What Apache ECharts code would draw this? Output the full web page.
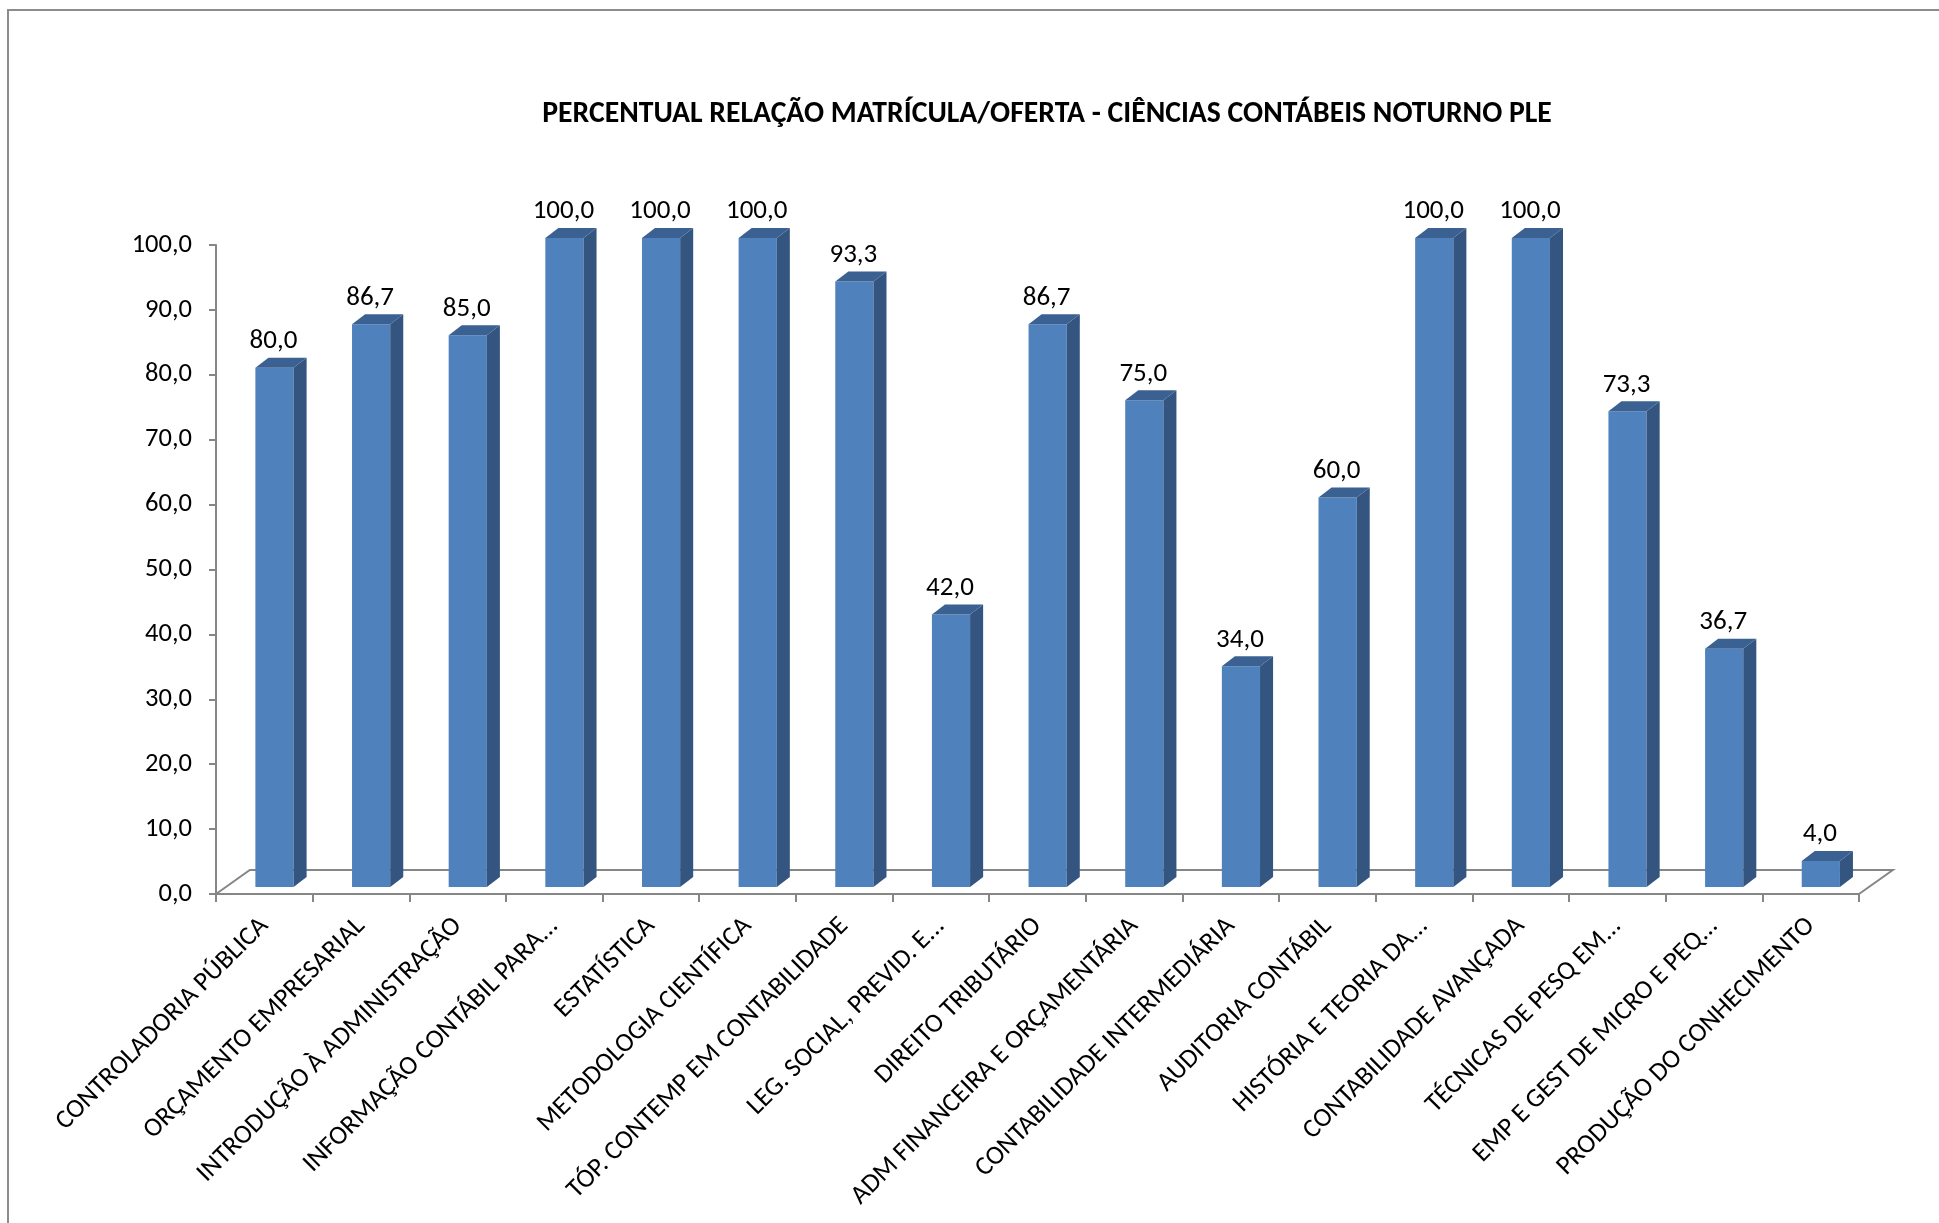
<!DOCTYPE html>
<html>
<head>
<meta charset="utf-8">
<script src="https://cdn.jsdelivr.net/npm/echarts@6/dist/echarts.min.js"></script>
<style>
html,body{margin:0;padding:0;background:#fff;}
#main{width:1939px;height:1223px;}
</style>
</head>
<body>
<div id="main"></div>
<script>
var titleText = 'PERCENTUAL RELAÇÃO MATRÍCULA/OFERTA - CIÊNCIAS CONTÁBEIS NOTURNO PLE';
var categories = [
  'CONTROLADORIA PÚBLICA',
  'ORÇAMENTO EMPRESARIAL',
  'INTRODUÇÃO À ADMINISTRAÇÃO',
  'INFORMAÇÃO CONTÁBIL PARA...',
  'ESTATÍSTICA',
  'METODOLOGIA CIENTÍFICA',
  'TÓP. CONTEMP EM CONTABILIDADE',
  'LEG. SOCIAL, PREVID. E...',
  'DIREITO TRIBUTÁRIO',
  'ADM FINANCEIRA E ORÇAMENTÁRIA',
  'CONTABILIDADE INTERMEDIÁRIA',
  'AUDITORIA CONTÁBIL',
  'HISTÓRIA E TEORIA DA...',
  'CONTABILIDADE AVANÇADA',
  'TÉCNICAS DE PESQ EM...',
  'EMP E GEST DE MICRO E PEQ...',
  'PRODUÇÃO DO CONHECIMENTO'
];
var values = [80.0, 86.7, 85.0, 100.0, 100.0, 100.0, 93.3, 42.0, 86.7, 75.0, 34.0, 60.0, 100.0, 100.0, 73.3, 36.7, 4.0];
var yMin = 0, yMax = 100, yInterval = 10;

var FONT = "Carlito, 'Liberation Sans', Arial, sans-serif";
var AXIS_COLOR = '#868686';

function fmt(v) { return v.toFixed(1).replace('.', ','); }

var chart = echarts.init(document.getElementById('main'), null, {renderer: 'canvas'});

var barData = values.map(function (v, i) { return [i, v]; });

function renderFloor(params, api) {
  var band = api.size([1, 0])[0];
  var first = api.coord([0, 0]);
  var last = api.coord([categories.length - 1, 0]);
  var x0 = first[0] - band / 2, x1 = last[0] + band / 2, y0 = first[1];
  var dx = band * 0.35, dy = 24;
  return {
    type: 'polyline',
    shape: {points: [[x0, y0], [x0 + dx, y0 - dy], [x1 + dx, y0 - dy], [x1, y0]]},
    style: {stroke: AXIS_COLOR, lineWidth: 2, fill: null}
  };
}

function renderBar(params, api) {
  var i = api.value(0), v = api.value(1);
  var band = api.size([1, 0])[0];
  var base = api.coord([i, 0]);
  var top = api.coord([i, v]);
  var shiftX = band * 0.105, shiftY = 7;
  var w = band * 0.395;
  var sx = band * 0.135, sy = 10;
  var xl = base[0] + shiftX - w / 2, xr = xl + w;
  var yb = base[1] - shiftY, yt = top[1] - shiftY;
  return {
    type: 'group',
    children: [
      {type: 'rect', shape: {x: xl, y: yt, width: w, height: yb - yt}, style: {fill: '#4F81BD'}},
      {type: 'polygon', shape: {points: [[xr, yt], [xr + sx, yt - sy], [xr + sx, yb - sy], [xr, yb]]}, style: {fill: '#34557F'}},
      {type: 'polygon', shape: {points: [[xl, yt], [xl + sx, yt - sy], [xr + sx, yt - sy], [xr, yt]]}, style: {fill: '#3B6193'}},
      {type: 'text', style: {text: fmt(v), x: xl + w / 2 - 1, y: yt - sy - 3, align: 'center', verticalAlign: 'bottom', font: '27px ' + FONT, fill: '#000'}}
    ]
  };
}

chart.setOption({
  backgroundColor: '#fff',
  animation: false,
  title: {
    text: titleText,
    left: 1042,
    top: 95,
    textAlign: 'center',
    textStyle: {fontFamily: FONT, fontSize: 29.7, fontWeight: 'bold', color: '#000'}
  },
  graphic: [{
    type: 'rect',
    shape: {x: 8, y: 10, width: 2000, height: 1400},
    style: {fill: null, stroke: '#8c8c8c', lineWidth: 2},
    silent: true
  }],
  grid: {left: 216, right: 80, top: 245, bottom: 329, containLabel: false},
  xAxis: {
    type: 'category',
    data: categories,
    axisLine: {show: true, lineStyle: {color: AXIS_COLOR, width: 2}},
    axisTick: {show: true, length: 8, lineStyle: {color: AXIS_COLOR, width: 2}},
    axisLabel: {interval: 0, rotate: 45, margin: 28, fontFamily: FONT, fontSize: 26.5, color: '#000'},
    splitLine: {show: false}
  },
  yAxis: {
    type: 'value',
    min: yMin, max: yMax, interval: yInterval,
    axisLine: {show: true, lineStyle: {color: AXIS_COLOR, width: 2}},
    axisTick: {show: true, length: 7, lineStyle: {color: AXIS_COLOR, width: 2}},
    axisLabel: {margin: 24, fontFamily: FONT, fontSize: 26.5, color: '#000', formatter: function (v) { return fmt(v); }},
    splitLine: {show: false}
  },
  series: [
    {type: 'custom', name: 'floor', data: [[0, 0]], renderItem: renderFloor, z: 1, silent: true},
    {type: 'custom', name: 'Percentual', data: barData, encode: {x: 0, y: 1}, renderItem: renderBar, z: 2}
  ]
});
</script>
</body>
</html>
